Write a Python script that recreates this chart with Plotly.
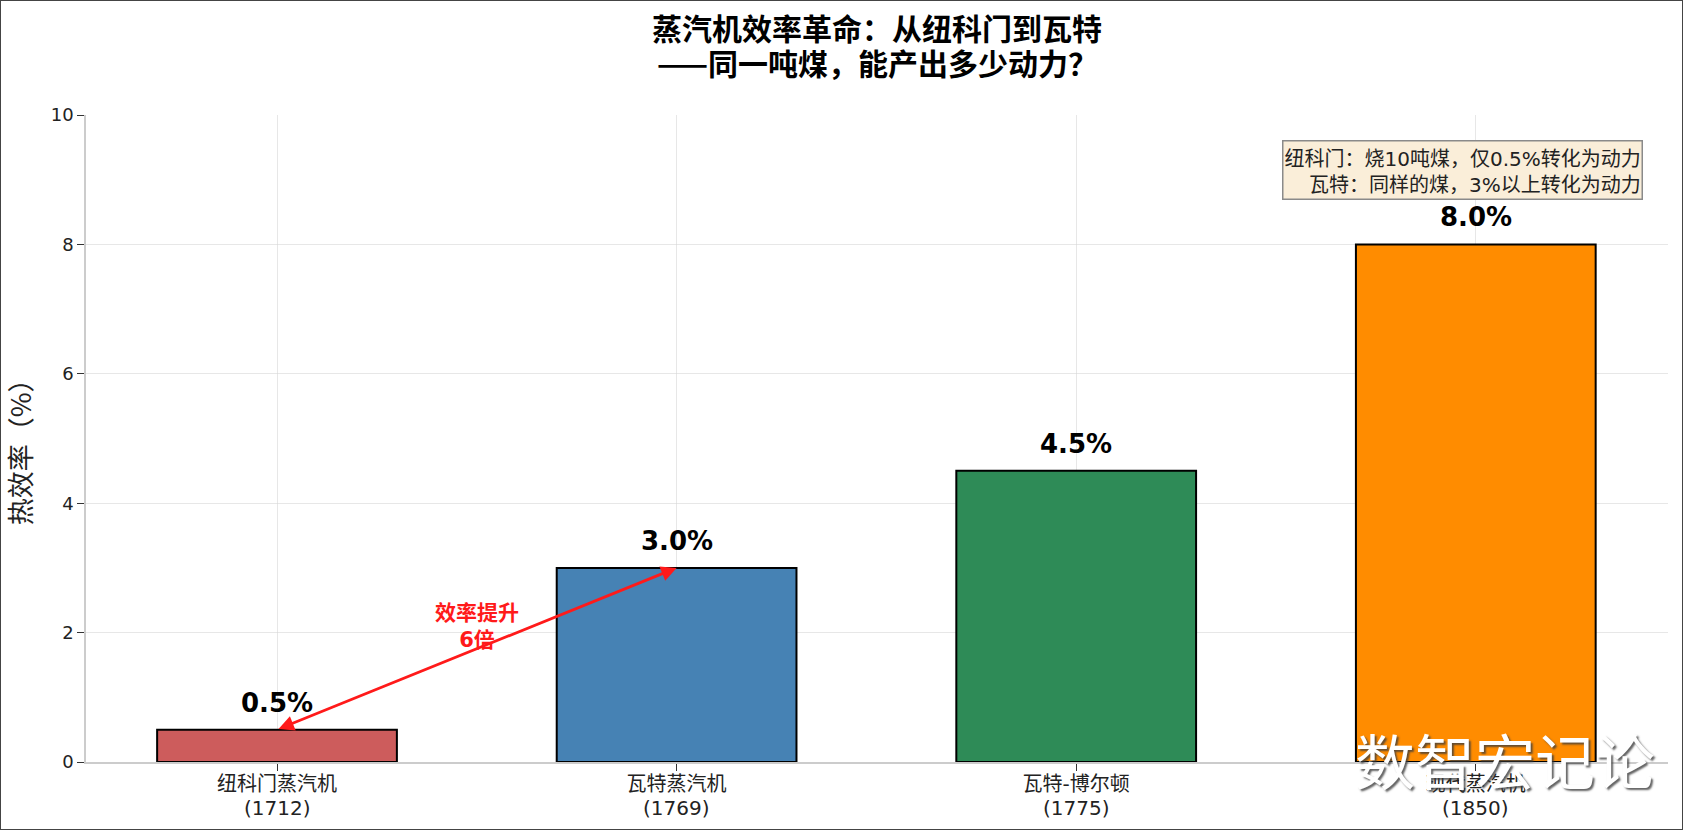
import plotly.graph_objects as go

# ---- data ----
category_names = ["纽科门蒸汽机", "瓦特蒸汽机", "瓦特-博尔顿", "现代蒸汽机"]
category_years = ["(1712)", "(1769)", "(1775)", "(1850)"]
efficiency = [0.5, 3.0, 4.5, 8.0]
value_labels = ["0.5%", "3.0%", "4.5%", "8.0%"]
bar_colors = ["#CD5C5C", "#4682B4", "#2E8B57", "#FF8C00"]
y_ticks = [0, 2, 4, 6, 8, 10]
title_line1 = "蒸汽机效率革命：从纽科门到瓦特"
title_line2 = "——同一吨煤，能产出多少动力？"
y_label = "热效率（%）"
CJK_SPAN = "<span style=\"font-family:Noto Sans CJK SC\">：</span>"
note_text = ("纽科门" + CJK_SPAN + "烧10吨煤，仅0.5%转化为动力<br>"
             "瓦特" + CJK_SPAN + "同样的煤，3%以上转化为动力")
arrow_text = "效率提升<br>6倍"
watermark = "数智宏记论"

FONT = "DejaVu Sans, Noto Sans CJK SC, sans-serif"
CJK = "Noto Sans CJK SC, DejaVu Sans, sans-serif"
xpos = list(range(len(category_names)))

fig = go.Figure()
fig.add_trace(go.Bar(
    x=xpos, y=efficiency, width=0.6,
    marker=dict(color=bar_colors, line=dict(color="black", width=2)),
    showlegend=False, hoverinfo="skip",
))

annotations = []
# value labels
for xi, v, lab in zip(xpos, efficiency, value_labels):
    annotations.append(dict(
        x=xi, y=v, xref="x", yref="y", text=lab, showarrow=False,
        yanchor="bottom", yshift=10,
        font=dict(family=FONT, size=26, color="black", weight=700),
    ))

# second line of category labels (years)
for xi, yr in zip(xpos, category_years):
    annotations.append(dict(
        x=xi, y=-0.0705, xref="x", yref="paper", text=yr, showarrow=False,
        xanchor="center", yanchor="middle",
        font=dict(family=FONT, size=20, color="#222"),
    ))

# double-headed arrow between bar 0 and bar 1 tops
annotations.append(dict(
    x=xpos[1], y=efficiency[1], ax=xpos[0], ay=efficiency[0],
    xref="x", yref="y", axref="x", ayref="y",
    text="", showarrow=True, arrowside="end+start",
    arrowhead=2, arrowsize=1.1, arrowwidth=2.8, arrowcolor="#FF1A1A",
    standoff=0, startstandoff=0,
))
annotations.append(dict(
    x=0.5, y=2.1, xref="x", yref="y", text=arrow_text, showarrow=False,
    font=dict(family=FONT, size=21, color="#FF1A1A", weight=700),
))

# title (two lines)
annotations.append(dict(
    x=0.5, y=1.136, xref="paper", yref="paper", text=title_line1, showarrow=False,
    yanchor="middle", font=dict(family=CJK, size=30, color="black", weight=700),
))
annotations.append(dict(
    x=0.5, y=1.082, xref="paper", yref="paper", text=title_line2, showarrow=False,
    yanchor="middle", font=dict(family=CJK, size=30, color="black", weight=700),
))

# y label
annotations.append(dict(
    x=-0.0415, y=0.49, xref="paper", yref="paper", text=y_label, showarrow=False,
    textangle=-90, xanchor="center", yanchor="middle",
    font=dict(family=CJK, size=27, color="#222"),
))

# note box
annotations.append(dict(
    x=0.984, y=0.961, xref="paper", yref="paper", text=note_text, showarrow=False,
    xanchor="right", yanchor="top", align="right",
    bgcolor="#FAEED9", bordercolor="#8A8A8A", borderwidth=1.5, borderpad=1,
    font=dict(family=FONT, size=20, color="#222"),
))

# watermark
annotations.append(dict(
    x=0.897, y=0.0, xref="paper", yref="paper", text=watermark, showarrow=False,
    xanchor="center", yanchor="middle", yshift=4,
    font=dict(family="Noto Sans CJK SC, sans-serif", size=60, color="white",
              shadow="2px 2px 2px rgba(60,60,60,0.8)"),
))

fig.update_layout(
    width=1683, height=830,
    margin=dict(l=86, r=15, t=115, b=68, autoexpand=False),
    paper_bgcolor="white", plot_bgcolor="white",
    font=dict(family=FONT, size=17, color="#222"),
    annotations=annotations,
    showlegend=False,
    shapes=[dict(type="rect", xref="paper", yref="paper",
                 x0=-86/1582, x1=(1683-86)/1582, y0=-68/647, y1=(830-68)/647,
                 line=dict(color="#444", width=2), layer="above")],
)
GRID = "rgba(215,215,215,0.6)"
fig.update_xaxes(
    range=[-0.478, 3.481], tickvals=xpos, ticktext=category_names,
    showgrid=True, gridcolor=GRID, gridwidth=1, automargin=False,
    ticks="outside", ticklen=7, tickcolor="#333", tickwidth=1,
    ticklabelstandoff=-4,
    showline=True, linecolor="#CCCCCC", linewidth=1.5,
    zeroline=False, layer="above traces",
    tickfont=dict(family=FONT, size=20, color="#222"),
)
fig.update_yaxes(
    range=[0, 10], tickvals=y_ticks,
    showgrid=True, gridcolor=GRID, gridwidth=1, automargin=False,
    ticks="outside", ticklen=7, tickcolor="#333", tickwidth=1,
    showline=True, linecolor="#CCCCCC", linewidth=1.5,
    zeroline=False, layer="above traces",
    tickfont=dict(family=FONT, size=18, color="#222"),
)

fig.write_html("out.html", config={"displayModeBar": False},
               post_script="document.body.style.margin='0px';")
